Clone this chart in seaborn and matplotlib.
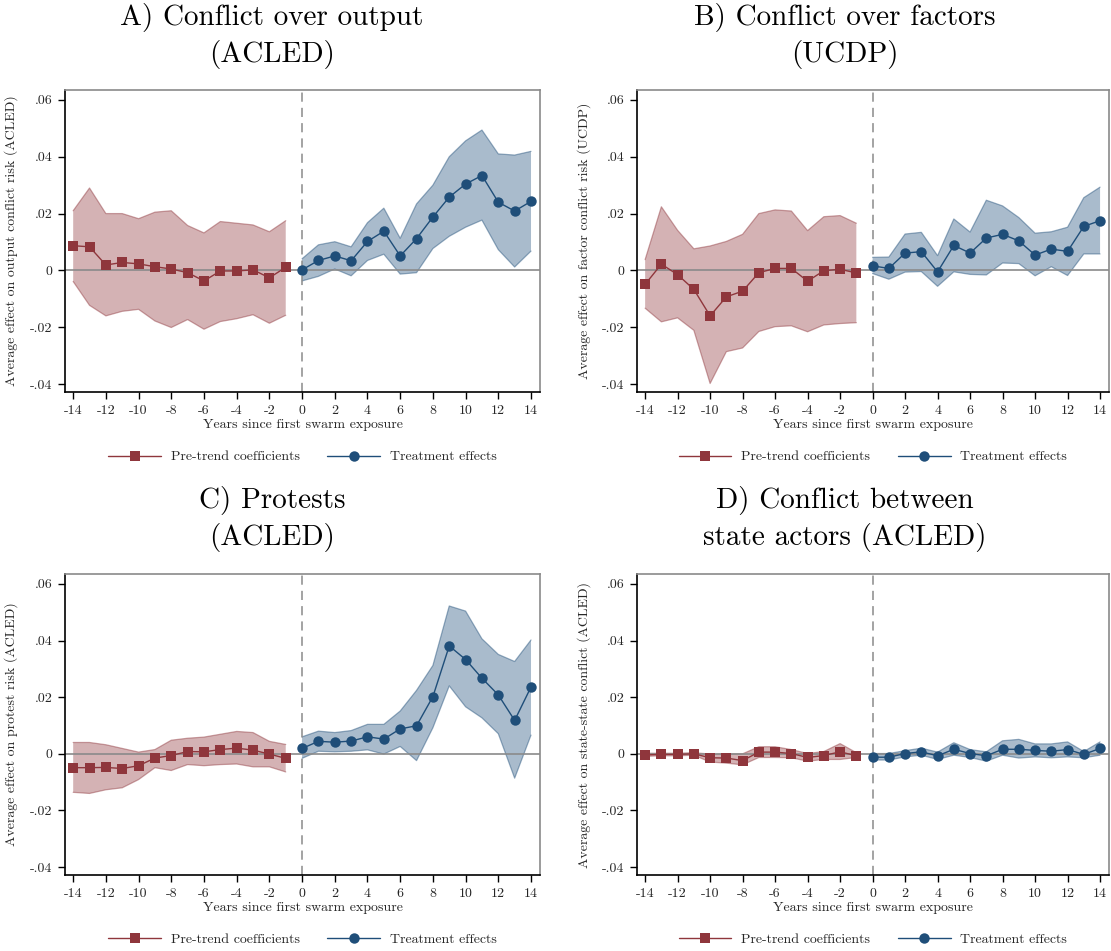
import numpy as np
import pandas as pd
import matplotlib
matplotlib.use("Agg")
import matplotlib.pyplot as plt
import seaborn as sns

sns.set_theme(style="white")
plt.rcParams["font.family"] = ["cmr10", "DejaVu Serif"]
plt.rcParams["axes.unicode_minus"] = False
plt.rcParams["mathtext.fontset"] = "cm"

RED = "#8f363c"
BLUE = "#1f4e79"

pre_years = list(range(-14, 0))
post_years = list(range(0, 15))

# Panel A: conflict over output (ACLED)
a_pre = [0.0087, 0.0083, 0.0019, 0.0028, 0.0023, 0.0013, 0.0005, -0.0008, -0.0037, -0.0002, -0.0002, 0.0002, -0.0026, 0.0011]
a_pre_hi = [0.0210, 0.0290, 0.0200, 0.0200, 0.0182, 0.0205, 0.0210, 0.0158, 0.0132, 0.0172, 0.0166, 0.0160, 0.0136, 0.0175]
a_pre_lo = [-0.0039, -0.0123, -0.0160, -0.0144, -0.0137, -0.0178, -0.0201, -0.0173, -0.0207, -0.0180, -0.0170, -0.0156, -0.0186, -0.0158]
a_post = [0.0002, 0.0035, 0.0051, 0.0034, 0.0102, 0.0138, 0.0051, 0.0112, 0.0188, 0.0258, 0.0304, 0.0334, 0.0240, 0.0209, 0.0243]
a_post_hi = [0.0041, 0.0090, 0.0101, 0.0083, 0.0168, 0.0219, 0.0113, 0.0234, 0.0300, 0.0400, 0.0456, 0.0494, 0.0410, 0.0406, 0.0419]
a_post_lo = [-0.0037, -0.0021, 0.0005, -0.0019, 0.0035, 0.0057, -0.0013, -0.0008, 0.0077, 0.0120, 0.0152, 0.0177, 0.0073, 0.0012, 0.0068]

# Panel B: conflict over factors (UCDP)
b_pre = [-0.0049, 0.0022, -0.0015, -0.0067, -0.0160, -0.0093, -0.0073, -0.0008, 0.0007, 0.0007, -0.0038, -0.0001, 0.0004, -0.0009]
b_pre_hi = [0.0038, 0.0224, 0.0141, 0.0076, 0.0086, 0.0102, 0.0127, 0.0200, 0.0213, 0.0209, 0.0140, 0.0189, 0.0193, 0.0166]
b_pre_lo = [-0.0133, -0.0181, -0.0167, -0.0211, -0.0398, -0.0286, -0.0273, -0.0215, -0.0198, -0.0195, -0.0216, -0.0192, -0.0187, -0.0184]
b_post = [0.0016, 0.0007, 0.0061, 0.0066, -0.0005, 0.0088, 0.0061, 0.0114, 0.0127, 0.0104, 0.0054, 0.0075, 0.0067, 0.0155, 0.0175]
b_post_hi = [0.0046, 0.0047, 0.0128, 0.0134, 0.0052, 0.0181, 0.0135, 0.0247, 0.0227, 0.0186, 0.0131, 0.0136, 0.0152, 0.0256, 0.0293]
b_post_lo = [-0.0011, -0.0031, -0.0006, -0.0004, -0.0056, -0.0005, -0.0014, -0.0016, 0.0026, 0.0024, -0.0019, 0.0013, -0.0018, 0.0058, 0.0058]

# Panel C: protests (ACLED)
c_pre = [-0.0049, -0.0049, -0.0048, -0.0052, -0.0042, -0.0015, -0.0006, 0.0008, 0.0007, 0.0015, 0.0020, 0.0013, -0.0001, -0.0016]
c_pre_hi = [0.0040, 0.0040, 0.0032, 0.0019, 0.0006, 0.0015, 0.0048, 0.0055, 0.0059, 0.0069, 0.0079, 0.0075, 0.0044, 0.0033]
c_pre_lo = [-0.0136, -0.0140, -0.0127, -0.0120, -0.0091, -0.0049, -0.0059, -0.0038, -0.0042, -0.0038, -0.0036, -0.0046, -0.0046, -0.0064]
c_post = [0.0019, 0.0044, 0.0041, 0.0045, 0.0060, 0.0052, 0.0088, 0.0099, 0.0202, 0.0381, 0.0333, 0.0267, 0.0208, 0.0118, 0.0236]
c_post_hi = [0.0060, 0.0080, 0.0075, 0.0082, 0.0104, 0.0104, 0.0151, 0.0224, 0.0312, 0.0522, 0.0504, 0.0406, 0.0351, 0.0326, 0.0402]
c_post_lo = [-0.0016, 0.0009, 0.0007, 0.0009, 0.0014, -0.0001, 0.0026, -0.0024, 0.0092, 0.0240, 0.0166, 0.0127, 0.0071, -0.0086, 0.0066]

# Panel D: conflict between state actors (ACLED)
d_pre = [-0.0004, -0.0002, -0.0002, 0.0000, -0.0014, -0.0015, -0.0024, 0.0006, 0.0006, 0.0001, -0.0013, -0.0006, 0.0007, -0.0007]
d_pre_hi = [0.0002, 0.0002, 0.0002, 0.0004, -0.0001, 0.0000, 0.0000, 0.0025, 0.0025, 0.0015, 0.0001, 0.0008, 0.0036, 0.0004]
d_pre_lo = [-0.0009, -0.0007, -0.0007, -0.0005, -0.0029, -0.0033, -0.0039, -0.0013, -0.0013, -0.0014, -0.0026, -0.0020, -0.0020, -0.0013]
d_post = [-0.0012, -0.0012, 0.0001, 0.0007, -0.0007, 0.0016, 0.0001, -0.0007, 0.0016, 0.0016, 0.0012, 0.0009, 0.0015, -0.0002, 0.0019]
d_post_hi = [0.0001, 0.0001, 0.0011, 0.0020, 0.0006, 0.0039, 0.0015, 0.0007, 0.0046, 0.0051, 0.0035, 0.0035, 0.0042, 0.0008, 0.0042]
d_post_lo = [-0.0022, -0.0022, -0.0011, -0.0005, -0.0020, -0.0005, -0.0013, -0.0026, -0.0005, -0.0015, -0.0011, -0.0014, -0.0011, -0.0014, -0.0005]

titles = ["A) Conflict over output\n(ACLED)",
          "B) Conflict over factors\n(UCDP)",
          "C) Protests\n(ACLED)",
          "D) Conflict between\nstate actors (ACLED)"]
ylabels = ["Average effect on output conflict risk (ACLED)",
           "Average effect on factor conflict risk (UCDP)",
           "Average effect on protest risk (ACLED)",
           "Average effect on state-state conflict (ACLED)"]
xlabel = "Years since first swarm exposure"
ytick_vals = [-0.04, -0.02, 0, 0.02, 0.04, 0.06]
ytick_labels = ["-.04", "-.02", "0", ".02", ".04", ".06"]
xtick_vals = list(range(-14, 15, 2))

panels = [
    (a_pre, a_pre_lo, a_pre_hi, a_post, a_post_lo, a_post_hi),
    (b_pre, b_pre_lo, b_pre_hi, b_post, b_post_lo, b_post_hi),
    (c_pre, c_pre_lo, c_pre_hi, c_post, c_post_lo, c_post_hi),
    (d_pre, d_pre_lo, d_pre_hi, d_post, d_post_lo, d_post_hi),
]

W, H = 1111, 951
fig = plt.figure(figsize=(W / 100, H / 100), dpi=100)

# axes boxes in pixels: left, right, top, bottom
boxes = [(65, 540, 90, 392), (637, 1109, 90, 392),
         (65, 540, 574, 875), (637, 1109, 574, 875)]
title_x = [272, 845, 272, 845]
title_y = [3, 3, 486, 486]

for i, (box, data) in enumerate(zip(boxes, panels)):
    l, r, t, b = box
    ax = fig.add_axes([l / W, 1 - b / H, (r - l) / W, (b - t) / H])
    pre, pre_lo, pre_hi, post, post_lo, post_hi = data
    df_pre = pd.DataFrame({"year": pre_years, "coef": pre, "lo": pre_lo, "hi": pre_hi})
    df_post = pd.DataFrame({"year": post_years, "coef": post, "lo": post_lo, "hi": post_hi})

    ax.fill_between(df_pre["year"], df_pre["lo"], df_pre["hi"], facecolor=RED, alpha=0.38,
                    edgecolor="none", zorder=1)
    ax.plot(df_pre["year"], df_pre["lo"], color=RED, alpha=0.45, lw=0.9, zorder=1)
    ax.plot(df_pre["year"], df_pre["hi"], color=RED, alpha=0.45, lw=0.9, zorder=1)
    ax.fill_between(df_post["year"], df_post["lo"], df_post["hi"], facecolor=BLUE, alpha=0.38,
                    edgecolor="none", zorder=1)
    ax.plot(df_post["year"], df_post["lo"], color=BLUE, alpha=0.45, lw=0.9, zorder=1)
    ax.plot(df_post["year"], df_post["hi"], color=BLUE, alpha=0.45, lw=0.9, zorder=1)

    ax.axhline(0, color="#8a8a8a", lw=1.2, zorder=2)
    ax.axvline(0, color="#8a8a8a", lw=1.1, ls=(0, (6, 4)), zorder=2)

    sns.lineplot(data=df_pre, x="year", y="coef", ax=ax, color=RED, marker="s",
                 markersize=7, markeredgewidth=0, lw=1.0, estimator=None,
                 label="Pre-trend coefficients", zorder=3)
    sns.lineplot(data=df_post, x="year", y="coef", ax=ax, color=BLUE, marker="o",
                 markersize=7.5, markeredgewidth=0, lw=1.0, estimator=None,
                 label="Treatment effects", zorder=3)

    ax.set_xlim(-14.5, 14.55)
    ax.set_ylim(-0.0428, 0.0635)
    ax.set_xticks(xtick_vals)
    ax.set_xticklabels([str(v) for v in xtick_vals])
    ax.set_yticks(ytick_vals)
    ax.set_yticklabels(ytick_labels)
    ax.tick_params(axis="both", direction="out", length=5, width=1, color="black",
                   labelsize=10, pad=4, left=True, bottom=True)
    for side in ["left", "bottom"]:
        ax.spines[side].set_color("black")
        ax.spines[side].set_linewidth(1.2)
    for side in ["top", "right"]:
        ax.spines[side].set_color("#8a8a8a")
        ax.spines[side].set_linewidth(1.2)

    ax.set_xlabel(xlabel, fontsize=10)
    ax.xaxis.set_label_coords(0.5, -0.108)
    ax.xaxis.label.set_va("center")
    ax.set_ylabel(ylabels[i], fontsize=10)
    ax.yaxis.set_label_coords(-0.098, 0.5)

    ax.legend(loc="upper center", bbox_to_anchor=(0.5, -0.153), ncol=2, frameon=False,
              fontsize=10, handlelength=3.8, handletextpad=0.7, columnspacing=2.0)

    fig.text(title_x[i] / W, 1 - title_y[i] / H, titles[i], ha="center", va="top",
             fontsize=21, linespacing=1.38, color="black")

fig.savefig("out.png", dpi=100, facecolor="white")
